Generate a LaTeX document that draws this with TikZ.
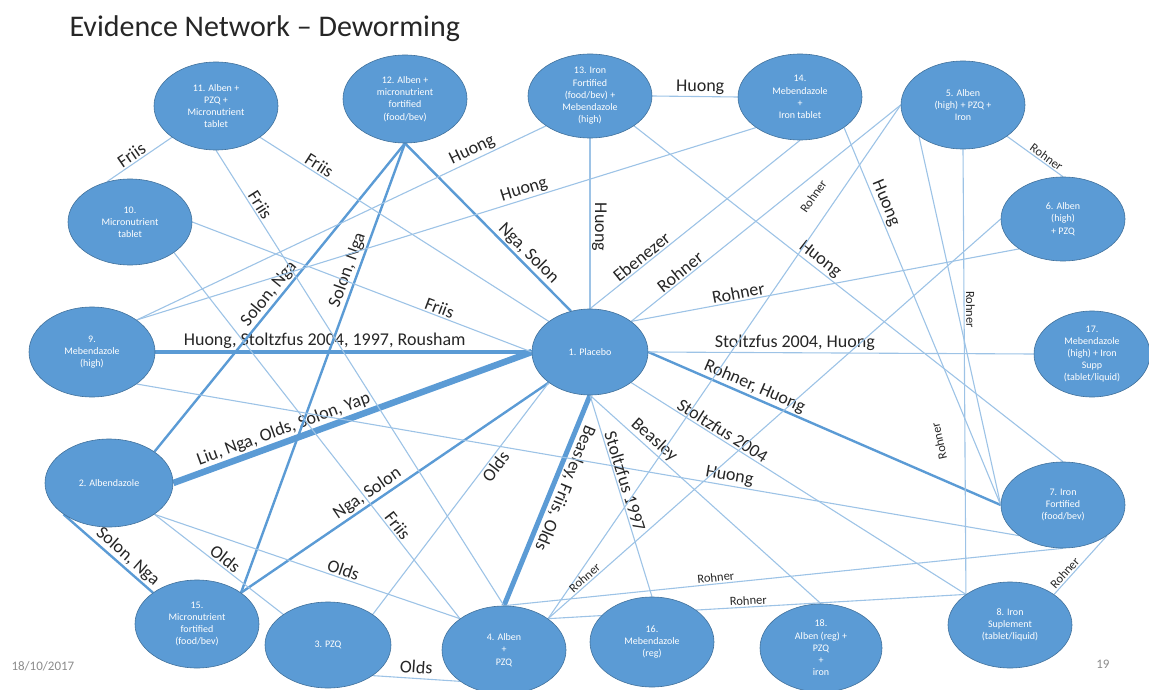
\documentclass[tikz,border=0pt]{standalone}
\usepackage{fontspec}
\setmainfont{Carlito}
\usetikzlibrary{shapes.geometric,positioning,backgrounds}

\definecolor{armblue}{HTML}{5B9BD5}
\definecolor{armrim}{HTML}{41719C}
\definecolor{linkblue}{HTML}{9DC3E6}
\definecolor{labelgray}{HTML}{262626}
\definecolor{footgray}{HTML}{8C8C8C}

\tikzset{
  arm/.style={ellipse, fill=armblue, draw=armrim, line width=0.6pt,
    minimum width=124pt, minimum height=88pt, inner sep=0pt,
    align=center, text=white, font=\fontsize{10}{12.2}\selectfont},
  thin link/.style={draw=linkblue, line width=1.1pt},
  mid link/.style={draw=armblue, line width=2.4pt},
  lbl/.style={font=\fontsize{18}{18}\selectfont, text=labelgray, sloped,
    allow upside down, inner sep=1.5pt},
  slbl/.style={lbl, font=\fontsize{12.5}{12.5}\selectfont},
  foot/.style={font=\fontsize{13}{13}\selectfont, text=footgray},
}

\begin{document}
\begin{tikzpicture}[x=1pt,y=-1pt]
\useasboundingbox (0,0) rectangle (1149,690);

\node[anchor=base west, font=\fontsize{30}{30}\selectfont, text=labelgray] (title) at (66,37) {Evidence Network \textendash{} Deworming};

% karok
\node[arm, minimum width=116pt, minimum height=86pt] (n1) at (590,352) {1. Placebo};
\node[arm, minimum width=128pt] (n2) at (109,483) {2. Albendazole};
\node[arm, minimum width=126pt, minimum height=86pt] (n3) at (328,645) {3. PZQ};
\node[arm] (n4) at (504,650) {4. Alben\\+\\PZQ};
\node[arm] (n5) at (963,105) {5. Alben\\(high) + PZQ +\\Iron};
\node[arm, minimum height=84pt] (n6) at (1063,219) {6. Alben\\(high)\\+ PZQ};
\node[arm, minimum height=86pt] (n7) at (1063,505) {7. Iron\\Fortified\\(food/bev)};
\node[arm, minimum height=86pt] (n8) at (1010,625) {8. Iron\\Suplement\\(tablet/liquid)};
\node[arm, minimum width=126pt, minimum height=90pt] (n9) at (92,352) {9.\\Mebendazole\\(high)};
\node[arm, minimum height=86pt] (n10) at (130,222) {10.\\Micronutrient\\tablet};
\node[arm] (n11) at (216,106) {11. Alben +\\PZQ +\\Micronutrient\\tablet};
\node[arm] (n12) at (405,99) {12. Alben +\\micronutrient\\fortified\\(food/bev)};
\node[arm, minimum height=84pt] (n13) at (590,96) {13. Iron\\Fortified\\(food/bev) +\\Mebendazole\\(high)};
\node[arm, minimum height=86pt] (n14) at (800,97) {14.\\Mebendazole\\+\\Iron tablet};
\node[arm] (n15) at (197,624) {15.\\Micronutrient\\fortified\\(food/bev)};
\node[arm, minimum height=90pt] (n16) at (652,642) {16.\\Mebendazole\\(reg)};
\node[arm, minimum width=116pt, minimum height=86pt] (n17) at (1092,354) {17.\\Mebendazole\\(high) + Iron\\Supp\\(tablet/liquid)};
\node[arm, minimum width=122pt] (n18) at (821,648) {18.\\Alben (reg) +\\PZQ\\+\\iron};

\node[foot, anchor=base west] (date) at (8,670) {18/10/2017};
\node[foot, anchor=base east] (page) at (1113,668) {19};

\begin{scope}[on background layer]
% vastag
\draw[draw=armblue, line width=4.5pt] (n9.east) -- node[lbl, pos=.45, above] {Huong, Stoltzfus 2004, 1997, Rousham} (n1.west);
\draw[draw=armblue, line width=6.5pt] (n2.east) -- node[lbl, pos=.32, above] {Liu, Nga, Olds, Solon, Yap} (n1.west);
\draw[draw=armblue, line width=5pt] (n1.south) -- node[lbl, pos=.42, above] {Beasley, Friis, Olds} (n4.north);
% kozepes
\draw[mid link] (n12.south) -- node[lbl, pos=.70, above] {Nga, Solon} (n1.115);
\draw[mid link] (n2.north east) -- node[lbl, pos=.49, above] {Solon, Nga} (n12.south);
\draw[mid link] (n15.north east) -- node[lbl, pos=.71, above] {Solon, Nga} (n12.south);
\draw[mid link] (n2.south west) -- node[lbl, pos=.64, above] {Solon, Nga} (n15.north west);
\draw[mid link] (n15.north east) -- node[lbl, pos=.43, above] {Nga, Solon} (n1.south west);
\draw[mid link] (n1.east) -- node[lbl, pos=.29, above] {Rohner, Huong} (n7.west);
% vekony
\draw[thin link] (n2.south east) -- node[lbl, pos=.51, above] {Olds} (n3.north west);
\draw[thin link] (n2.south east) -- node[lbl, pos=.61, above] {Olds} (n4.north west);
\draw[thin link] (n3.south east) -- node[lbl, pos=.49, above=3pt] {Olds} (n4.south west);
\draw[thin link] (n3.north east) -- node[lbl, pos=.66, below] {Olds} (n1.south west);
\draw[thin link] (n10.120) -- node[lbl, pos=.45, above] {Friis} (n11.south west);
\draw[thin link] (n11.south east) -- node[lbl, pos=.19, above] {Friis} (n1.north west);
\draw[thin link] (n11.south) -- node[lbl, pos=.13, above] {Friis} (n4.north);
\draw[thin link] (n10.east) -- node[lbl, pos=.72, above] {Friis} (n1.west);
\draw[thin link] (n10.south east) -- node[lbl, pos=.76, above] {Friis} (n4.north west);
\draw[thin link] (n9.north east) -- node[lbl, pos=.83, above] {Huong} (n13.south west);
\draw[thin link] (n9.north east) -- node[lbl, pos=.63, above] {Huong} (n14.south west);
\draw[thin link] (n13.east) -- node[lbl, pos=.56, above] {Huong} (n14.west);
\draw[thin link] (n13.south) -- node[lbl, pos=.52, above] {Huong} (n1.north);
\draw[thin link] (n1.north) -- node[lbl, pos=.27, above] {Ebenezer} (n14.south);
\draw[thin link] (n13.south east) -- node[lbl, pos=.42, above] {Huong} (n7.north);
\draw[thin link] (n14.south east) -- node[lbl, pos=.21, above] {Huong} (n7.west);
\draw[thin link] (n1.north east) -- node[lbl, pos=.20, above] {Rohner} (n5.west);
\draw[thin link] (n1.north east) -- node[lbl, pos=.28, above] {Rohner} (n6.south west);
\draw[thin link] (n1.east) -- node[lbl, pos=.38, above] {Stoltzfus 2004, Huong} (n17.west);
\draw[thin link] (n1.south east) -- node[lbl, pos=.26, above] {Stoltzfus 2004} (n8.north west);
\draw[thin link] (n9.south east) -- node[lbl, pos=.67, above] {Huong} (n7.south west);
\draw[thin link] (n1.south) -- node[lbl, pos=.25, above] {Beasley} (n18.north);
\draw[thin link] (n1.south) -- node[lbl, pos=.44, above] {Stoltzfus 1997} (n16.north);
% Rohner
\draw[thin link] (n5.south east) -- node[slbl, pos=.64, above] {Rohner} (n6.north);
\draw[thin link] (n5.south) -- node[slbl, pos=.36, above] {Rohner} (n8.north west);
\draw[thin link] (n7.west) -- node[slbl, pos=.2, above=40pt] {Rohner} (n5.south west);
\draw[thin link] (n4.north east) -- node[slbl, pos=.8, above=14pt] {Rohner} (n5.west);
\draw[thin link] (n4.north east) -- node[slbl, pos=.09, above] {Rohner} (n6.west);
\draw[thin link] (n4.north) -- node[slbl, pos=.38, above] {Rohner} (n7.south);
\draw[thin link] (n4.north east) -- node[slbl, pos=.48, above] {Rohner} (n8.north west);
\draw[thin link] (n8.north east) -- node[slbl, pos=.29, above] {Rohner} (n7.south east);
\end{scope}
\end{tikzpicture}
\end{document}
